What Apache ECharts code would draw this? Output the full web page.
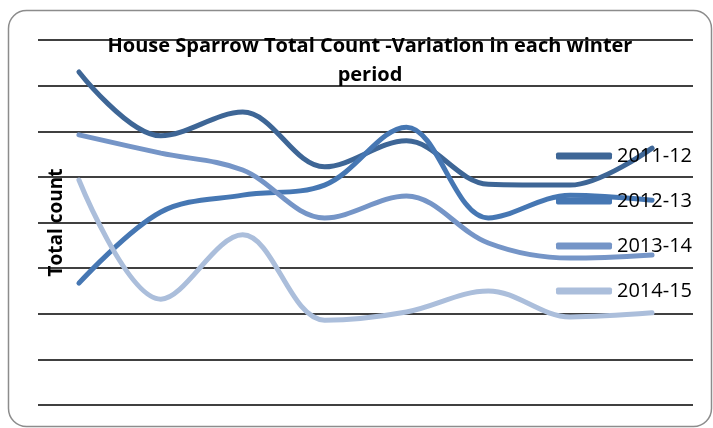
<!DOCTYPE html>
<html>
<head>
<meta charset="utf-8">
<style>
  html, body { margin: 0; padding: 0; background: #fff; }
  #chart { width: 713px; height: 428px; }
</style>
<script src="https://cdn.jsdelivr.net/npm/echarts@6/dist/echarts.min.js"></script>
</head>
<body>
<div id="chart"></div>
<script>
// Monthly sample points across each winter period
const categories = ['Oct', 'Nov', 'Dec', 'Jan', 'Feb', 'Mar', 'Apr', 'May'];

const season2011 = [73.0, 59.0, 64.2, 52.2, 57.9, 48.4, 48.2, 56.3];
const season2012 = [26.7, 42.3, 46.0, 48.2, 60.9, 41.0, 46.0, 44.9];
const season2013 = [59.2, 55.2, 51.5, 41.0, 45.8, 35.5, 32.2, 32.9];
const season2014 = [49.3, 23.2, 37.3, 18.6, 20.4, 25.0, 19.3, 20.2];

const seriesNames = ['2011-12', '2012-13', '2013-14', '2014-15'];
const seriesColors = ['#3E6696', '#4677B3', '#7595C7', '#ABBEDB'];
const seriesData = [season2011, season2012, season2013, season2014];

const font = '"Open Sans", "DejaVu Sans", sans-serif';
const chart = echarts.init(document.getElementById('chart'));

chart.setOption({
  animation: false,
  backgroundColor: '#ffffff',
  title: {
    text: 'House Sparrow Total Count -Variation in each winter\nperiod',
    left: 365,
    textAlign: 'center',
    top: 27,
    textStyle: {
      fontFamily: font,
      fontWeight: 'bold',
      fontSize: 20,
      lineHeight: 29,
      color: '#000'
    }
  },
  graphic: [{
    type: 'rect',
    shape: { x: 8.5, y: 10.5, width: 703, height: 416, r: 18 },
    style: { fill: 'none', stroke: '#8c8c8c', lineWidth: 1.5 },
    z: -1
  }],
  legend: {
    orient: 'vertical',
    left: 556,
    top: 146,
    padding: 0,
    itemWidth: 56,
    itemHeight: 7,
    itemGap: 25,
    icon: 'roundRect',
    data: seriesNames,
    textStyle: {
      fontFamily: font,
      fontSize: 20,
      lineHeight: 20,
      color: '#000',
      padding: [0, 0, 0, 0]
    }
  },
  grid: { left: 38, right: 20, top: 40, bottom: 23, containLabel: false },
  xAxis: {
    type: 'category',
    data: categories,
    boundaryGap: true,
    axisLine: { show: false },
    axisTick: { show: false },
    axisLabel: { show: false }
  },
  yAxis: {
    type: 'value',
    min: 0,
    max: 80,
    interval: 10,
    name: 'Total count',
    nameLocation: 'middle',
    nameGap: -28,
    nameRotate: 90,
    nameTextStyle: {
      fontFamily: font,
      fontWeight: 'bold',
      fontSize: 19,
      color: '#000'
    },
    axisLine: { show: false },
    axisTick: { show: false },
    axisLabel: { show: false },
    splitLine: { lineStyle: { color: '#000', width: 1.5 } }
  },
  series: seriesNames.map((name, i) => ({
    name: name,
    type: 'line',
    data: seriesData[i],
    smooth: 0.35,
    symbol: 'none',
    color: seriesColors[i],
    lineStyle: { width: 5, color: seriesColors[i], cap: 'round' }
  }))
});
</script>
</body>
</html>
